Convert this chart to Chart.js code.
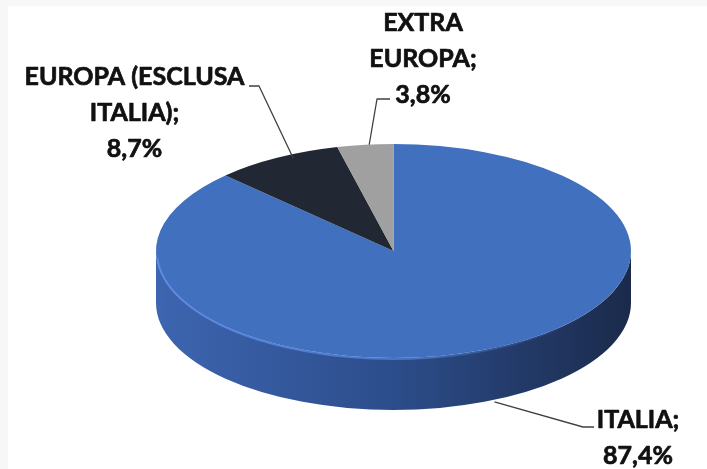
<!DOCTYPE html>
<html>
<head>
<meta charset="utf-8">
<script src="https://cdn.jsdelivr.net/npm/chart.js@4.4.1/dist/chart.umd.min.js"></script>
<style>
  html, body { margin: 0; padding: 0; background: #f7f7f7; overflow: hidden; }
  #wrap { position: absolute; left: 8px; top: 6px; width: 699px; height: 463px; background: #fff; overflow: hidden; }
  #pie { position: absolute; left: -8px; top: -6px; }
</style>
</head>
<body>
<div id="wrap"><canvas id="pie" width="707" height="469"></canvas></div>
<script>
// data
const categories = [["ITALIA"], ["EUROPA (ESCLUSA", "ITALIA)"], ["EXTRA", "EUROPA"]];
const values = [87.4, 8.7, 3.8];
const sliceColors = ["#4170bf", "#222833", "#a0a0a0"];
const sideColors = [
  ["#3d65b0", "#2c4d8b", "#1b2a4b"],
  ["#1a1f28", "#14181f", "#0e1116"],
  ["#8a8a8a", "#707070", "#585858"]
];

// wrap an angle into [0, 2PI)
function norm(a) {
  const t = Math.PI * 2;
  return ((a % t) + t) % t;
}

// squash the flat pie into an ellipse and add a side wall
const pie3d = {
  id: "pie3d",
  beforeDatasetsDraw(chart, args, opts) {
    const ctx = chart.ctx;
    const meta = chart.getDatasetMeta(0);
    const { cx, cy, rx, ry, depth } = opts;

    meta.data.forEach((arc, i) => {
      const a = norm(arc.startAngle);
      const b = a + (arc.endAngle - arc.startAngle);
      [[0, Math.PI], [Math.PI * 2, Math.PI * 3]].forEach(([lo, hi]) => {
        const s = Math.max(a, lo), e = Math.min(b, hi);
        if (e <= s) return;
        const g = ctx.createLinearGradient(cx - rx, 0, cx + rx, 0);
        const stops = sideColors[i];
        stops.forEach((c, k) => g.addColorStop(k / (stops.length - 1), c));
        ctx.beginPath();
        ctx.ellipse(cx, cy, rx, ry, 0, s, e);
        ctx.ellipse(cx, cy + depth, rx, ry, 0, e, s, true);
        ctx.closePath();
        ctx.fillStyle = g;
        ctx.fill();
      });
    });

    const el = meta.data[0];
    ctx.save();
    ctx.translate(cx, cy);
    ctx.scale(rx / el.outerRadius, ry / el.outerRadius);
    ctx.translate(-el.x, -el.y);
  },
  afterDatasetsDraw(chart, args, opts) {
    const ctx = chart.ctx;
    ctx.restore();
    const { cx, cy, rx, ry } = opts;
    // soft light rim on the front edge of the top face
    const g = ctx.createLinearGradient(cx - rx, 0, cx + rx, 0);
    g.addColorStop(0, "rgba(95,145,235,0.75)");
    g.addColorStop(0.5, "rgba(95,145,235,0.6)");
    g.addColorStop(0.9, "rgba(95,145,235,0)");
    ctx.save();
    ctx.beginPath();
    ctx.ellipse(cx, cy + 1, rx - 1, ry, 0, 0.15 * Math.PI, 0.98 * Math.PI);
    ctx.strokeStyle = g;
    ctx.lineWidth = 2;
    ctx.stroke();
    ctx.restore();
  }
};

// labels with leader lines
const pieLabels = {
  id: "pieLabels",
  afterDraw(chart, args, opts) {
    const ctx = chart.ctx;
    const meta = chart.getDatasetMeta(0);
    const p = chart.options.plugins.pie3d;
    ctx.save();
    meta.data.forEach((arc, i) => {
      const L = opts.layout[i];
      const mid = (arc.startAngle + arc.endAngle) / 2;
      const px = p.cx + p.rx * Math.cos(mid) + (L.shift || 0);
      let py = p.cy + p.ry * Math.sin(mid);
      if (Math.sin(mid) > 0) py += p.depth;

      ctx.beginPath();
      ctx.moveTo(px, py);
      ctx.lineTo(L.elbow[0], L.elbow[1]);
      ctx.lineTo(L.tip[0], L.tip[1]);
      ctx.strokeStyle = opts.lineColor;
      ctx.lineWidth = 1.3;
      ctx.stroke();

      const lines = categories[i].slice();
      lines[lines.length - 1] += ";";
      lines.push(values[i].toFixed(1).replace(".", ",") + "%");
      ctx.font = opts.font;
      ctx.fillStyle = opts.color;
      ctx.strokeStyle = opts.color;
      ctx.lineWidth = 0.7;
      ctx.lineJoin = "round";
      ctx.textAlign = "center";
      ctx.textBaseline = "alphabetic";
      lines.forEach((t, k) => {
        ctx.fillText(t, L.x, L.y + k * opts.lineHeight);
        ctx.strokeText(t, L.x, L.y + k * opts.lineHeight);
      });
    });
    ctx.restore();
  }
};

new Chart(document.getElementById("pie"), {
  type: "pie",
  data: {
    labels: categories.map(c => c.join(" ")),
    datasets: [{
      data: values,
      backgroundColor: sliceColors,
      borderWidth: 0,
      clip: false
    }]
  },
  options: {
    responsive: false,
    devicePixelRatio: 1,
    animation: false,
    events: [],
    layout: { padding: { left: 156, right: 76, top: 0, bottom: 0 } },
    plugins: {
      legend: { display: false },
      tooltip: { enabled: false },
      pie3d: { cx: 393.5, cy: 251, rx: 237.5, ry: 107, depth: 52 },
      pieLabels: {
        font: "bold 25px Lato",
        color: "#111111",
        lineColor: "#404040",
        lineHeight: 36,
        layout: [
          { x: 638, y: 428, elbow: [583, 427], tip: [594, 427], shift: 10 },
          { x: 134.5, y: 85, elbow: [259, 86], tip: [249, 86], shift: 16 },
          { x: 423, y: 31, elbow: [377, 99], tip: [390, 99], shift: 4 }
        ]
      }
    }
  },
  plugins: [pie3d, pieLabels]
});
</script>
</body>
</html>
